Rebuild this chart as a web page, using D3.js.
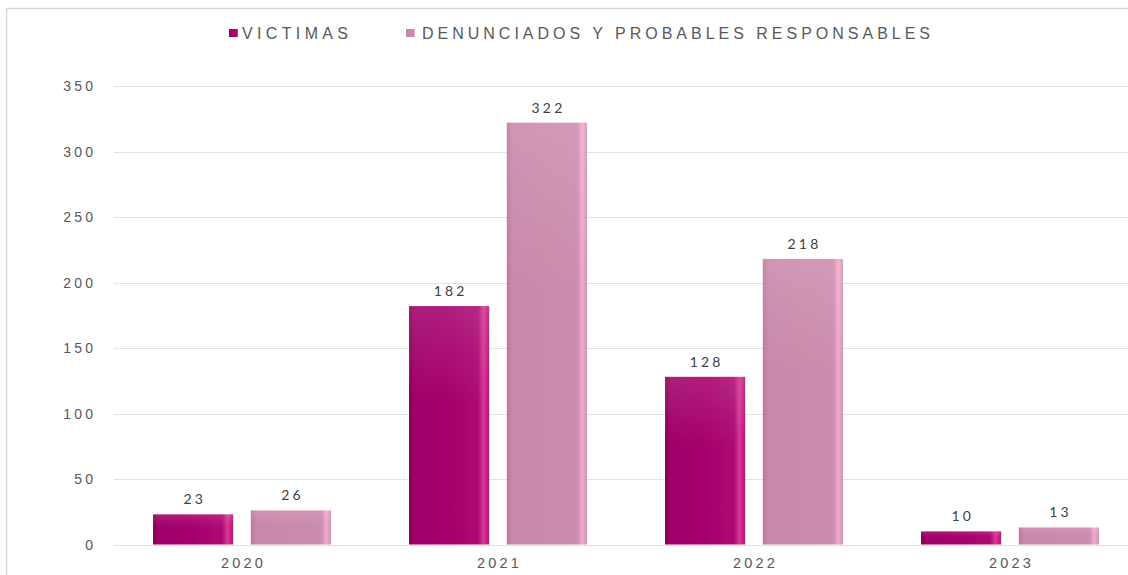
<!DOCTYPE html>
<html>
<head>
<meta charset="utf-8">
<script src="https://cdn.jsdelivr.net/npm/d3@7"></script>
<style>
  html, body { margin: 0; padding: 0; background: #fff; }
  svg { display: block; font-family: Lato, "Open Sans", sans-serif; }
  .legend-label { font-family: "Liberation Sans", Arial, sans-serif; }
</style>
</head>
<body>
<svg id="chart" width="1128" height="575"></svg>
<script>
// Years on the x axis
const years = ["2020", "2021", "2022", "2023"];
// Series names (legend order)
const seriesNames = ["VICTIMAS", "DENUNCIADOS Y PROBABLES RESPONSABLES"];
// Values per series, one per year
const victimas = [23, 182, 128, 10];
const denunciados = [26, 322, 218, 13];
// Y axis ticks
const yTicks = [0, 50, 100, 150, 200, 250, 300, 350];

const svg = d3.select("#chart");
const W = 1128, H = 575;
const margin = { left: 114 };
const numSpacing = 3.2;   // tracking used for all numeric labels

// Outer frame of the chart area
svg.append("rect")
  .attr("x", 6.5).attr("y", 8.5)
  .attr("width", 1300).attr("height", 800)
  .attr("fill", "none")
  .attr("stroke", "#d9d9d9").attr("stroke-width", 1.5);

const defs = svg.append("defs");
function barGradient(id, stops) {
  const g = defs.append("linearGradient").attr("id", id)
    .attr("x1", "0%").attr("x2", "100%").attr("y1", "0%").attr("y2", "0%");
  stops.forEach(([o, c]) => g.append("stop").attr("offset", o).attr("stop-color", c));
}
barGradient("gVict", [["0%", "#84004f"], ["7%", "#a0006a"], ["50%", "#a6006c"], ["86%", "#ac0a72"], ["93%", "#d83595"], ["100%", "#b4146f"]]);
barGradient("gDen", [["0%", "#b97a98"], ["7%", "#c988aa"], ["50%", "#cb8aab"], ["88%", "#cc8cad"], ["94%", "#f2aacb"], ["100%", "#d392b4"]]);
// soft top shading on the bars
const vg = defs.append("linearGradient").attr("id", "gTop")
  .attr("x1", "0").attr("x2", "0").attr("y1", "0").attr("y2", "1");
vg.append("stop").attr("offset", "0%").attr("stop-color", "#ffffff").attr("stop-opacity", 0.12);
vg.append("stop").attr("offset", "40%").attr("stop-color", "#ffffff").attr("stop-opacity", 0.0);

const x0 = d3.scaleBand().domain(years)
  .range([margin.left, margin.left + 4 * 256])
  .paddingInner(0.305).paddingOuter(0.1525);
const x1 = d3.scaleBand().domain([0, 1])
  .range([0, x0.bandwidth()]).paddingInner(0.18);
const y = d3.scaleLinear().domain([0, 350]).range([544.5, 86]);

// Horizontal gridlines
svg.append("g").selectAll("line").data(yTicks).join("line")
  .attr("x1", margin.left).attr("x2", W)
  .attr("y1", d => Math.round(y(d)) + 0.5).attr("y2", d => Math.round(y(d)) + 0.5)
  .attr("stroke", "#e3e3e3").attr("stroke-width", 1.2);

// Y axis labels
const yAxis = d3.axisLeft(y).tickValues(yTicks).tickSize(0).tickPadding(0);
const gy = svg.append("g").attr("transform", `translate(${93 + numSpacing},0)`).call(yAxis);
gy.select(".domain").remove();
gy.selectAll("text")
  .attr("fill", "#595959").attr("font-size", 14)
  .attr("letter-spacing", numSpacing).attr("dy", "0.35em");

// X axis labels
const xAxis = d3.axisBottom(x0).tickSize(0).tickPadding(0);
const gx = svg.append("g").attr("transform", `translate(0,563)`).call(xAxis);
gx.select(".domain").remove();
gx.selectAll("text")
  .attr("fill", "#595959").attr("font-size", 14.5)
  .attr("letter-spacing", numSpacing).attr("dx", numSpacing / 2).attr("dy", "0.35em");

const series = [victimas, denunciados];
const fills = ["url(#gVict)", "url(#gDen)"];
const groups = svg.append("g").selectAll("g").data(years).join("g")
  .attr("transform", d => `translate(${x0(d)},0)`);

groups.each(function (year, i) {
  const g = d3.select(this);
  series.forEach((vals, s) => {
    const v = vals[i];
    const bx = x1(s), bw = x1.bandwidth();
    g.append("rect")
      .attr("x", bx).attr("y", y(v))
      .attr("width", bw).attr("height", y(0) - y(v))
      .attr("fill", fills[s]);
    g.append("rect")
      .attr("x", bx).attr("y", y(v))
      .attr("width", bw).attr("height", y(0) - y(v))
      .attr("fill", "url(#gTop)");
    g.append("text")
      .attr("x", bx + bw / 2 + numSpacing / 2).attr("y", y(v) - 10)
      .attr("text-anchor", "middle")
      .attr("fill", "#404040").attr("font-size", 14)
      .attr("letter-spacing", numSpacing)
      .text(v);
  });
});

// Legend
const legend = [
  { name: seriesNames[0], sx: 229, tx: 242, len: 106, fill: "url(#gVict)" },
  { name: seriesNames[1], sx: 406, tx: 422, len: 508, fill: "url(#gDen)" }
];
const lg = svg.append("g");
legend.forEach(d => {
  lg.append("rect").attr("x", d.sx).attr("y", 29).attr("width", 9).attr("height", 8).attr("fill", d.fill);
  lg.append("text").attr("class", "legend-label")
    .attr("x", d.tx).attr("y", 33).attr("dy", "0.35em")
    .attr("fill", "#595959").attr("font-size", 16)
    .attr("textLength", d.len).attr("lengthAdjust", "spacing")
    .text(d.name);
});
</script>
</body>
</html>
